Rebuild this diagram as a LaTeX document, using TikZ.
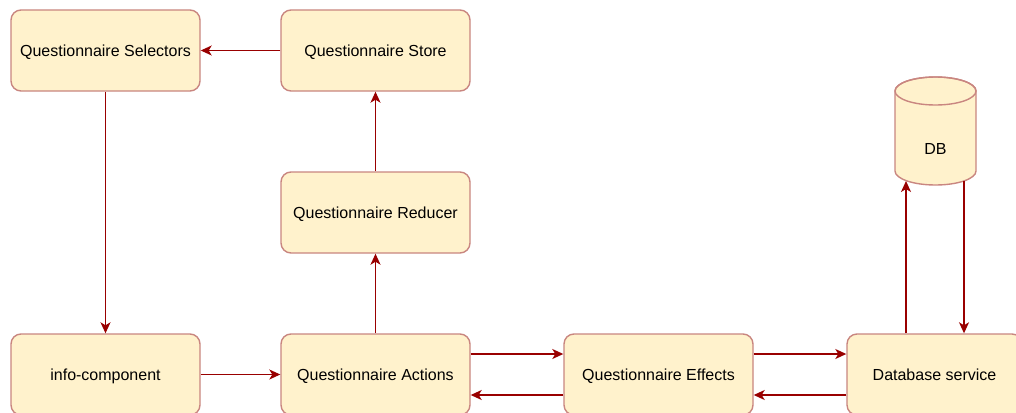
\documentclass[tikz,border=0pt]{standalone}
\usepackage{fontspec}
\setmainfont{Liberation Sans}
\usetikzlibrary{arrows.meta}
\definecolor{boxfill}{HTML}{FFF2CC}
\definecolor{boxline}{HTML}{C98680}
\definecolor{wire}{HTML}{990000}
\tikzset{
  label font/.style={font=\fontsize{16}{19}\selectfont, text height=11.5pt, text depth=0pt},
  block/.style={draw=boxline, fill=boxfill, line width=1.4pt, rounded corners=10pt,
    minimum width=189pt, minimum height=81pt, inner sep=0pt, label font},
  conn/.style={draw=wire, line width=1.4pt,
    -{Stealth[length=11pt,width=10pt,inset=3pt]}},
}
\begin{document}
\begin{tikzpicture}[x=1pt,y=-1pt]
\useasboundingbox (0,0) rectangle (1016,412);
\clip (0,0) rectangle (1016,412);
\fill[white] (0,0) rectangle (1016,412);

% store / selectors row
\node[block] (sel) at (105.5,50.5) {Questionnaire Selectors};
\node[block] (store) at (375.5,50.5) {Questionnaire Store};
\node[block] (red) at (375.5,212.5) {Questionnaire Reducer};

% bottom row
\node[block] (info) at (105.5,374.5) {info-component};
\node[block] (act) at (375.5,374.5) {Questionnaire Actions};
\node[block] (eff) at (658.5,374.5) {Questionnaire Effects};
\node[block, minimum width=175pt] (dbs) at (934.5,374.5) {Database service};

% database cylinder
\filldraw[draw=boxline, fill=boxfill, line width=1.4pt]
  (895,91) -- (895,171) arc[start angle=180, end angle=0, x radius=40.5, y radius=14]
  -- (976,91) arc[start angle=0, end angle=-180, x radius=40.5, y radius=14] -- cycle;
\draw[boxline, line width=1.4pt] (935.5,91) ellipse[x radius=40.5, y radius=14];
\node[label font] (db) at (935.5,149) {DB};
\coordinate (dbin) at (906,181);
\coordinate (dbout) at (964,181);

% connectors
\draw[conn] (store.west) -- (sel.east);
\draw[conn] (sel.south) -- (info.north);
\draw[conn] (info.east) -- (act.west);
\draw[conn] (act.north) -- (red.south);
\draw[conn] (red.north) -- (store.south);
\draw[conn] ([yshift=20.5pt]act.east) -- ([yshift=20.5pt]eff.west);
\draw[conn] ([yshift=-20.5pt]eff.west) -- ([yshift=-20.5pt]act.east);
\draw[conn] ([yshift=20.5pt]eff.east) -- ([yshift=20.5pt]dbs.west);
\draw[conn] ([yshift=-20.5pt]dbs.west) -- ([yshift=-20.5pt]eff.east);
\draw[conn] ([xshift=-28.5pt]dbs.north) -- (dbin);
\draw[conn] (dbout) -- ([xshift=29.5pt]dbs.north);
\end{tikzpicture}
\end{document}
